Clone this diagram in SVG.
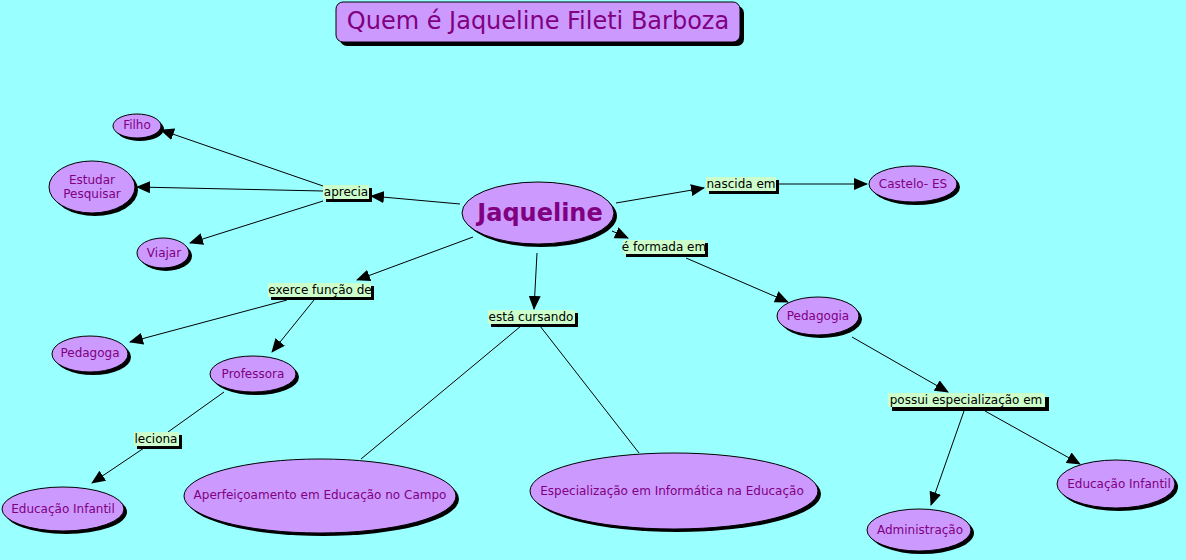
<svg xmlns="http://www.w3.org/2000/svg" width="1186" height="560" viewBox="0 0 1186 560">
<defs>
<marker id="arr" markerUnits="userSpaceOnUse" markerWidth="14" markerHeight="12" refX="13" refY="6" orient="auto">
<path d="M0,0 L14,6 L0,12 Z" fill="#000"/>
</marker>
<style>
.sh{fill:#000}
.nd{fill:#CC99FF;stroke:#000;stroke-width:1}
.nt{font-family:"DejaVu Sans",Verdana,sans-serif;font-size:12px;fill:#800080;text-anchor:middle;dominant-baseline:central}
.lb{fill:#CCFFCC}
.lt{font-family:"DejaVu Sans",Verdana,sans-serif;font-size:12px;fill:#000;text-anchor:middle;dominant-baseline:central}
.c{stroke:#000;stroke-width:1;fill:none}
.a{marker-end:url(#arr)}
</style>
</defs>
<rect width="1186" height="560" fill="#99FFFF"/>
<g id="title">
<rect x="340" y="6" width="404" height="40" rx="7" class="sh"/>
<rect x="336" y="2" width="404" height="40" rx="7" class="nd"/>
<text x="538" y="21" class="nt" style="font-size:24px">Quem é Jaqueline Fileti Barboza</text>
</g>
<g id="connectors">
<line x1="460" y1="204" x2="371" y2="196" class="c a"/>
<line x1="323" y1="186" x2="161" y2="130" class="c a"/>
<line x1="323" y1="191" x2="137" y2="187" class="c a"/>
<line x1="323" y1="201" x2="190" y2="243" class="c a"/>
<line x1="473" y1="237" x2="357" y2="280" class="c a"/>
<line x1="287" y1="300" x2="130" y2="342" class="c a"/>
<line x1="314" y1="300" x2="272" y2="352" class="c a"/>
<line x1="224" y1="392" x2="168" y2="432" class="c"/>
<line x1="144" y1="448" x2="92" y2="483" class="c a"/>
<line x1="537" y1="253" x2="534" y2="309" class="c a"/>
<line x1="521" y1="326" x2="361" y2="459" class="c"/>
<line x1="540" y1="326" x2="639" y2="453" class="c"/>
<line x1="616" y1="203" x2="704" y2="188" class="c a"/>
<line x1="778" y1="184" x2="867" y2="184" class="c a"/>
<line x1="612" y1="231" x2="628" y2="238" class="c a"/>
<line x1="686" y1="258" x2="788" y2="302" class="c a"/>
<line x1="852" y1="337" x2="948" y2="392" class="c a"/>
<line x1="964" y1="411" x2="931" y2="505" class="c a"/>
<line x1="985" y1="411" x2="1080" y2="464" class="c a"/>
</g>
<g id="n-jaqueline">
<ellipse cx="541" cy="216" rx="76" ry="31" class="sh"/>
<ellipse cx="538" cy="213" rx="76" ry="31" class="nd"/>
<text x="540" y="213" class="nt" style="font-size:24px;font-weight:bold">Jaqueline</text>
</g>
<g id="n-filho">
<ellipse cx="140" cy="129" rx="24" ry="12" class="sh"/>
<ellipse cx="137" cy="126" rx="24" ry="12" class="nd"/>
<text x="137" y="125" class="nt">Filho</text>
</g>
<g id="n-estudar">
<ellipse cx="95" cy="190" rx="43" ry="26" class="sh"/>
<ellipse cx="92" cy="187" rx="43" ry="26" class="nd"/>
<text x="92" y="180" class="nt">Estudar</text>
<text x="92" y="194" class="nt">Pesquisar</text>
</g>
<g id="n-viajar">
<ellipse cx="166" cy="256" rx="26" ry="15" class="sh"/>
<ellipse cx="163" cy="253" rx="26" ry="15" class="nd"/>
<text x="164" y="253" class="nt">Viajar</text>
</g>
<g id="n-castelo">
<ellipse cx="916" cy="187" rx="44" ry="18" class="sh"/>
<ellipse cx="913" cy="184" rx="44" ry="18" class="nd"/>
<text x="913" y="184" class="nt">Castelo- ES</text>
</g>
<g id="n-pedagogia">
<ellipse cx="821" cy="319" rx="41" ry="19" class="sh"/>
<ellipse cx="818" cy="316" rx="41" ry="19" class="nd"/>
<text x="818" y="316" class="nt">Pedagogia</text>
</g>
<g id="n-edinf-r">
<ellipse cx="1119" cy="487" rx="59" ry="24" class="sh"/>
<ellipse cx="1116" cy="484" rx="59" ry="24" class="nd"/>
<text x="1119" y="484" class="nt">Educação Infantil</text>
</g>
<g id="n-admin">
<ellipse cx="922" cy="533" rx="52" ry="21" class="sh"/>
<ellipse cx="919" cy="530" rx="52" ry="21" class="nd"/>
<text x="920" y="530" class="nt">Administração</text>
</g>
<g id="n-pedagoga">
<ellipse cx="93" cy="357" rx="38" ry="18" class="sh"/>
<ellipse cx="90" cy="354" rx="38" ry="18" class="nd"/>
<text x="90" y="353" class="nt">Pedagoga</text>
</g>
<g id="n-professora">
<ellipse cx="256" cy="377" rx="43" ry="18" class="sh"/>
<ellipse cx="253" cy="374" rx="43" ry="18" class="nd"/>
<text x="253" y="374" class="nt">Professora</text>
</g>
<g id="n-edinf-l">
<ellipse cx="66" cy="512" rx="61" ry="22" class="sh"/>
<ellipse cx="63" cy="509" rx="61" ry="22" class="nd"/>
<text x="63" y="509" class="nt">Educação Infantil</text>
</g>
<g id="n-aperf">
<ellipse cx="323" cy="499" rx="136" ry="37" class="sh"/>
<ellipse cx="320" cy="496" rx="136" ry="37" class="nd"/>
<text x="320" y="495" class="nt">Aperfeiçoamento em Educação no Campo</text>
</g>
<g id="n-espec">
<ellipse cx="677" cy="494" rx="144" ry="38" class="sh"/>
<ellipse cx="674" cy="491" rx="144" ry="38" class="nd"/>
<text x="672" y="491" class="nt">Especialização em Informática na Educação</text>
</g>
<g id="l-aprecia">
<rect x="326" y="188" width="46" height="14" class="sh"/>
<rect x="323" y="185" width="46" height="14" class="lb"/>
<text x="346" y="192" class="lt">aprecia</text>
</g>
<g id="l-nascida">
<rect x="709" y="180" width="70" height="14" class="sh"/>
<rect x="706" y="177" width="70" height="14" class="lb"/>
<text x="741" y="184" class="lt">nascida em</text>
</g>
<g id="l-formada">
<rect x="626" y="243" width="82" height="14" class="sh"/>
<rect x="623" y="240" width="82" height="14" class="lb"/>
<text x="664" y="247" class="lt">é formada em</text>
</g>
<g id="l-exerce">
<rect x="271" y="286" width="103" height="14" class="sh"/>
<rect x="268" y="283" width="103" height="14" class="lb"/>
<text x="320" y="290" class="lt">exerce função de</text>
</g>
<g id="l-cursando">
<rect x="491" y="313" width="87" height="14" class="sh"/>
<rect x="488" y="310" width="87" height="14" class="lb"/>
<text x="531" y="317" class="lt">está cursando</text>
</g>
<g id="l-leciona">
<rect x="137" y="435" width="45" height="14" class="sh"/>
<rect x="134" y="432" width="45" height="14" class="lb"/>
<text x="156" y="439" class="lt">leciona</text>
</g>
<g id="l-possui">
<rect x="892" y="397" width="157" height="14" class="sh"/>
<rect x="888" y="393" width="157" height="14" class="lb"/>
<text x="966" y="400" class="lt">possui especialização em</text>
</g>
</svg>
